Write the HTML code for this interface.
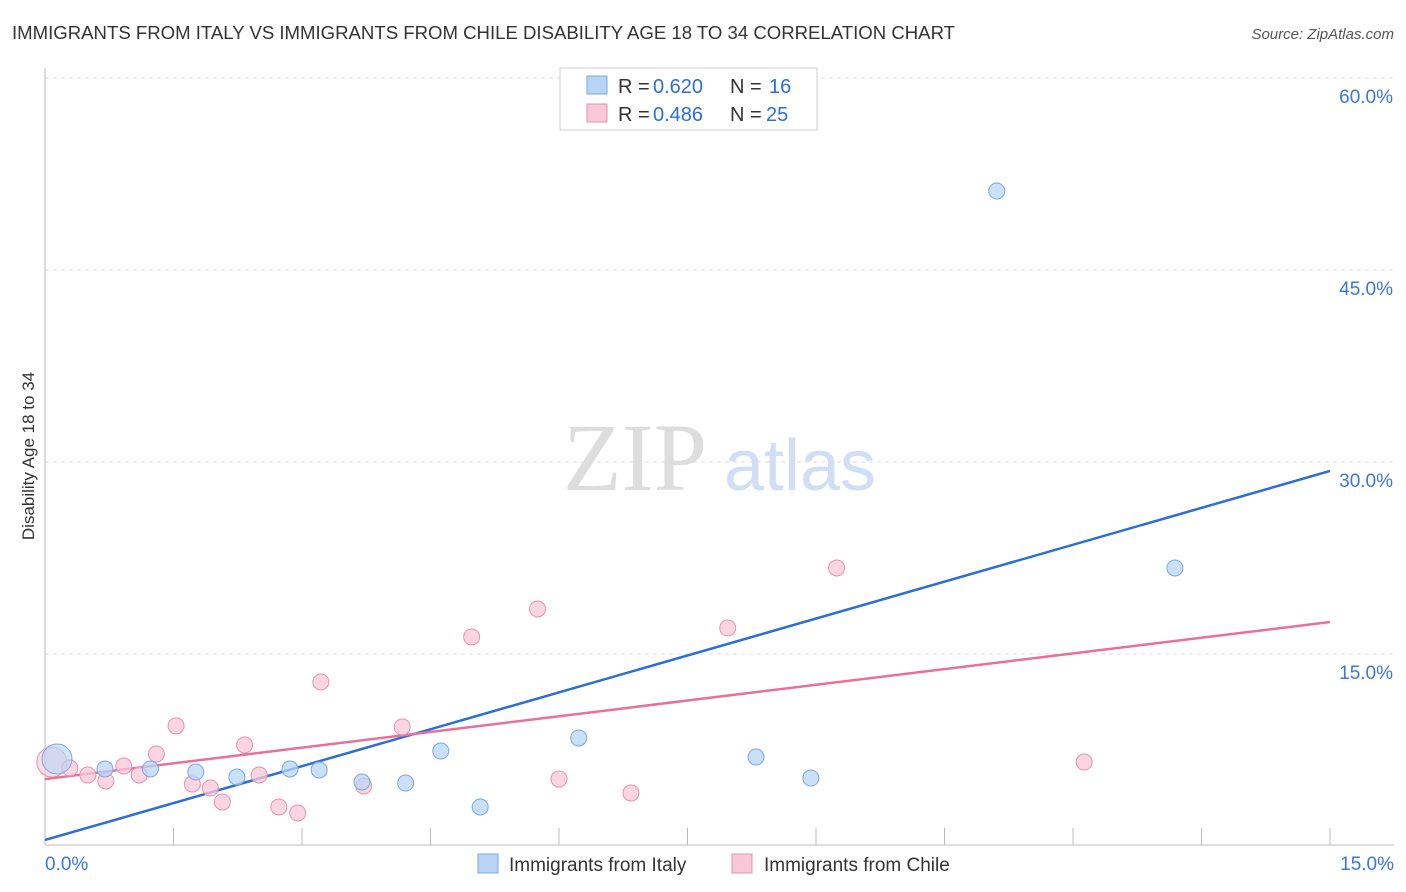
<!DOCTYPE html>
<html><head><meta charset="utf-8"><style>
body{margin:0;background:#fff;font-family:"Liberation Sans",sans-serif}
svg{display:block}
</style></head><body>
<svg id="chart" width="1406" height="892">
<text x="12" y="39" font-size="18" fill="#333" textLength="943" lengthAdjust="spacingAndGlyphs">IMMIGRANTS FROM ITALY VS IMMIGRANTS FROM CHILE DISABILITY AGE 18 TO 34 CORRELATION CHART</text>
<text x="1394" y="39" font-size="15" fill="#555" font-style="italic" text-anchor="end">Source: ZipAtlas.com</text>
<text x="34" y="456" font-size="17" fill="#333" text-anchor="middle" transform="rotate(-90 34 456)">Disability Age 18 to 34</text>
<g><text x="635" y="490" font-size="96" fill="#ddd" font-family="Liberation Serif,serif" text-anchor="middle">ZIP</text><text x="800" y="490" font-size="72" fill="#d0dff5" text-anchor="middle">atlas</text></g>
<g id="grid"></g><g id="axes"></g><g id="lines"></g><g id="pts"></g>
<g>
<rect x="560" y="68" width="257" height="62" fill="#fff" stroke="#ccc"/>
<rect x="587" y="76" width="20" height="18" fill="#b8d4f5" stroke="#7aa8e0"/>
<text x="618" y="93" font-size="20" fill="#333">R =</text><text x="653" y="93" font-size="20" fill="#2a6fd6">0.620</text>
<text x="730" y="93" font-size="20" fill="#333">N =</text><text x="769" y="93" font-size="20" fill="#2a6fd6">16</text>
<rect x="587" y="104" width="20" height="18" fill="#f9c8d8" stroke="#e890b0"/>
<text x="618" y="121" font-size="20" fill="#333">R =</text><text x="653" y="121" font-size="20" fill="#2a6fd6">0.486</text>
<text x="730" y="121" font-size="20" fill="#333">N =</text><text x="766" y="121" font-size="20" fill="#2a6fd6">25</text>
</g>
<g>
<rect x="478" y="854" width="20" height="19" fill="#b8d4f5" stroke="#7aa8e0"/>
<text x="509" y="871" font-size="19" fill="#333">Immigrants from Italy</text>
<rect x="732" y="854" width="20" height="19" fill="#f9c8d8" stroke="#e890b0"/>
<text x="764" y="871" font-size="19" fill="#333">Immigrants from Chile</text>
</g>
</svg>
<script>
const yTicks=[15,30,45,60];
const xTickLabels=["0.0%","15.0%"];
const italyX=[0.14,0.70,1.23,1.76,2.24,2.86,3.20,3.70,4.21,4.62,5.08,6.23,8.30,8.94,11.11,13.19];
const italyY=[6.80,6.02,6.02,5.78,5.39,6.02,5.94,5.00,4.92,7.42,3.05,8.44,6.95,5.31,51.17,21.72];
const chileX=[0.08,0.29,0.50,0.71,0.92,1.10,1.30,1.53,1.72,1.93,2.07,2.33,2.50,2.73,2.95,3.22,3.72,4.17,4.98,5.75,6.00,6.84,7.97,9.24,12.13];
const chileY=[6.56,6.09,5.55,5.08,6.25,5.55,7.19,9.38,4.84,4.53,3.44,7.89,5.55,3.05,2.58,12.81,4.69,9.30,16.33,18.52,5.23,4.14,17.03,21.72,6.56];
const italyTrend=[0.47,29.3];
const chileTrend=[5.23,17.5];
const NS="http://www.w3.org/2000/svg";
const X=v=>45+v/15*1285, Y=v=>846-v/15*192;
function mk(p,t,a){const e=document.createElementNS(NS,t);for(const k in a)e.setAttribute(k,a[k]);document.getElementById(p).appendChild(e);return e;}
yTicks.forEach(t=>{
 const l=mk('grid','line',{x1:45,x2:1394,y1:Y(t),y2:Y(t),stroke:'#ddd','stroke-dasharray':'4 4'});
 
 
 const tx=mk('grid','text',{x:1393,y:Y(t)+25,'font-size':19,fill:'#3a78d8','text-anchor':'end'});
 tx.textContent=t.toFixed(1)+'%';
 
 
});
const ax=mk('axes','line',{x1:45,x2:1394,y1:845,y2:845,stroke:'#bbb'});


const ay=mk('axes','line',{x1:45,x2:45,y1:68,y2:845,stroke:'#bbb'});


for(let i=0;i<=10;i++){const t=mk('axes','line',{x1:X(i*1.5),x2:X(i*1.5),y1:828,y2:845,stroke:'#bbb'});
 
 }
[[0,'start',45],[15,'end',1394]].forEach((d,i)=>{const t=mk('axes','text',{x:d[2],y:870,'font-size':19,fill:'#3a78d8','text-anchor':d[1]});t.textContent=xTickLabels[i];
 
 });
function pts(xs,ys,fill,stroke,name){xs.forEach((x,i)=>{const big=i==0;
 const c=mk('pts','circle',{cx:X(x),cy:Y(ys[i]),r:big?15:8,fill:fill,stroke:stroke,'stroke-width':1,'fill-opacity':big?0.6:0.75});
 
 });}
pts(chileX,chileY,'#f9c8d8','#e890b0','chile-point');
pts(italyX,italyY,'#b8d4f5','#7aa8e0','italy-point');
const l1=mk('lines','line',{x1:X(0),y1:Y(italyTrend[0]),x2:X(15),y2:Y(italyTrend[1]),stroke:'#2a6fd6','stroke-width':2.5});


const l2=mk('lines','line',{x1:X(0),y1:Y(chileTrend[0]),x2:X(15),y2:Y(chileTrend[1]),stroke:'#e8709a','stroke-width':2.5});


</script>
</body></html>
